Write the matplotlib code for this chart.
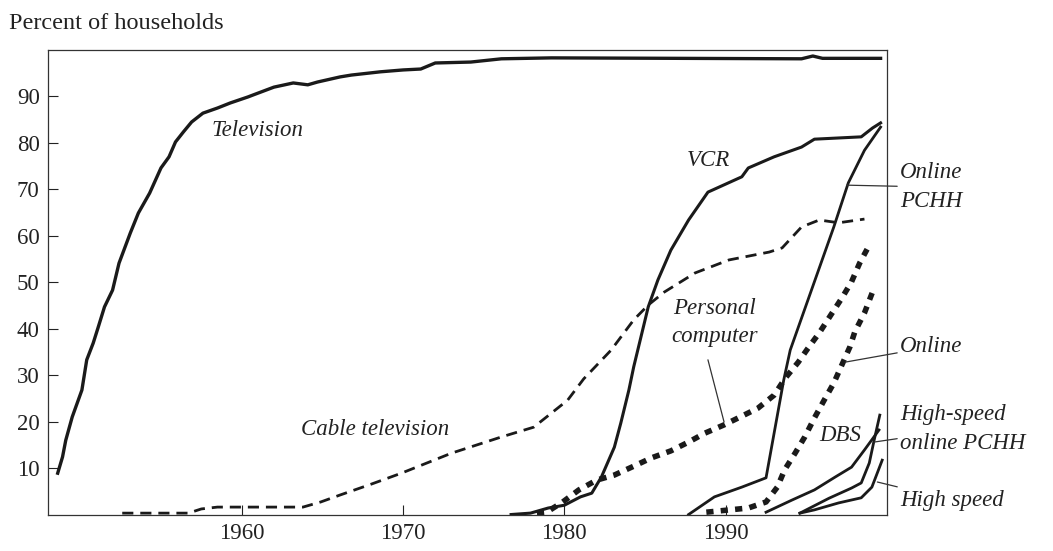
import matplotlib
matplotlib.use('Agg')
import matplotlib.pyplot as plt

# values (year, percent of households)
tv_year = [1948.6, 1948.9, 1949.1, 1949.5, 1950.1, 1950.4, 1950.8, 1951.1, 1951.5, 1952.0,
           1952.4, 1953.1, 1953.6, 1954.3, 1955.0, 1955.5, 1955.9, 1956.4, 1956.9, 1957.6,
           1958.5, 1959.3, 1960.4, 1960.7, 1962.0, 1963.2, 1964.1, 1964.7, 1966.1, 1966.8,
           1968.6, 1970.0, 1971.1, 1972.0, 1974.2, 1976.1, 1979.2, 1994.7, 1995.4, 1996.0, 1999.6]
tv_val = [8.9, 12.4, 16.0, 21.0, 26.8, 33.3, 36.9, 40.2, 44.7, 48.3,
          54.1, 60.6, 64.9, 69.2, 74.6, 77.0, 80.2, 82.4, 84.5, 86.4,
          87.5, 88.6, 89.9, 90.3, 92.0, 92.9, 92.5, 93.1, 94.2, 94.6,
          95.3, 95.7, 95.9, 97.2, 97.4, 98.1, 98.3, 98.1, 98.7, 98.2, 98.2]

cable_year = [1952.6, 1956.7, 1957.5, 1958.5, 1963.8, 1964.9, 1966.1, 1968.0, 1969.9, 1973.0,
              1976.1, 1978.1, 1980.2, 1981.2, 1982.9, 1984.3, 1985.2, 1986.2, 1988.1, 1990.2,
              1992.7, 1993.5, 1994.7, 1995.8, 1997.0, 1998.6]
cable_val = [0.3, 0.3, 1.2, 1.6, 1.6, 2.7, 4.2, 6.5, 8.9, 13.2,
             16.7, 18.8, 24.6, 29.2, 35.4, 41.9, 45.1, 47.9, 52.0, 54.8,
             56.5, 57.4, 61.9, 63.4, 62.8, 63.6]

vcr_year = [1976.7, 1977.9, 1979.0, 1980.0, 1981.0, 1981.7, 1982.3, 1983.1, 1983.5, 1984.0,
            1984.3, 1985.2, 1985.8, 1986.6, 1987.7, 1988.9, 1991.0, 1991.4, 1993.0, 1994.7,
            1995.5, 1998.4, 1999.1, 1999.6]
vcr_val = [0.0, 0.3, 1.4, 2.0, 3.8, 4.6, 8.1, 14.5, 19.7, 26.8,
           31.8, 44.7, 50.5, 56.9, 63.4, 69.4, 72.7, 74.6, 77.0, 79.1,
           80.8, 81.3, 83.2, 84.3]

pc_year = [1978.3, 1978.9, 1979.9, 1980.9, 1982.0, 1983.1, 1984.3, 1985.4, 1986.6, 1987.7,
           1988.7, 1989.9, 1990.9, 1992.0, 1993.0, 1993.7, 1994.5, 1995.1, 1995.8, 1996.6,
           1997.2, 1997.8, 1998.3, 1998.9]
pc_val = [0.3, 0.5, 2.7, 5.3, 7.4, 8.5, 10.4, 12.2, 13.7, 15.6,
          17.5, 19.3, 21.0, 22.9, 25.7, 29.4, 32.8, 35.8, 39.1, 43.4,
          46.6, 50.1, 54.1, 58.0]

online_pchh_year = [1987.7, 1989.3, 1991.0, 1992.5, 1993.0, 1993.6, 1994.0, 1995.1, 1996.7,
                    1997.6, 1998.6, 1999.6]
online_pchh_val = [0.0, 3.8, 5.9, 7.9, 17.5, 29.0, 35.4, 46.2, 61.9, 71.4, 78.4, 83.4]

online_year = [1988.8, 1991.4, 1992.5, 1993.2, 1993.65, 1994.3, 1994.9, 1995.5, 1996.1, 1996.7,
               1997.2, 1997.7, 1998.0, 1998.6, 1999.1]
online_val = [0.5, 1.4, 2.7, 5.9, 9.6, 13.2, 16.7, 20.8, 24.6, 28.3,
              32.2, 36.1, 39.3, 43.4, 47.9]

dbs_year = [1992.5, 1994.1, 1995.5, 1996.8, 1997.8, 1998.6, 1999.5]
dbs_val = [0.5, 3.1, 5.3, 8.1, 10.2, 13.9, 18.2]

hs_pchh_year = [1994.6, 1996.4, 1997.8, 1998.4, 1998.9, 1999.2, 1999.55]
hs_pchh_val = [0.3, 3.5, 5.7, 6.8, 11.1, 16.0, 21.4]

hs_year = [1994.6, 1995.5, 1997.0, 1998.4, 1999.06, 1999.7]
hs_val = [0.3, 1.0, 2.5, 3.6, 5.9, 11.7]

plt.rcParams['font.family'] = ['Liberation Serif', 'DejaVu Serif']
ink = '#1a1a1a'

fig = plt.figure(figsize=(10.53, 5.51), dpi=100)
ax = fig.add_axes([0.0456, 0.0662, 0.7968, 0.8431])

ax.plot(tv_year, tv_val, color=ink, lw=2.4)
ax.plot(cable_year, cable_val, color=ink, lw=2.0, dashes=(4, 2.5))
ax.plot(vcr_year, vcr_val, color=ink, lw=2.2)
ax.plot(online_pchh_year, online_pchh_val, color=ink, lw=2.0)
ax.plot(pc_year, pc_val, color=ink, lw=4.0, dashes=(1.3, 1.3))
ax.plot(online_year, online_val, color=ink, lw=4.0, dashes=(1.3, 1.3))
ax.plot(dbs_year, dbs_val, color=ink, lw=2.0)
ax.plot(hs_pchh_year, hs_pchh_val, color=ink, lw=2.0)
ax.plot(hs_year, hs_val, color=ink, lw=2.0)

ax.set_xlim(1948, 2000)
ax.set_ylim(0, 100)
ax.set_xticks([1960, 1970, 1980, 1990])
ax.set_yticks(range(10, 100, 10))
ax.tick_params(direction='in', length=7, width=0.8, labelsize=16.5, colors='#222222', pad=6)
for s in ax.spines.values():
    s.set_linewidth(0.9)
    s.set_color('#333333')

fig.text(0.009, 0.958, 'Percent of households', fontsize=17.5, color='#222222', va='center')

lab = dict(fontsize=16.5, style='italic', color='#222222')
ax.text(1961.0, 82.6, 'Television', ha='center', va='center', **lab)
ax.text(1988.9, 76.3, 'VCR', ha='center', va='center', **lab)
ax.text(1968.3, 18.2, 'Cable television', ha='center', va='center', **lab)
ax.text(1989.3, 41.4, 'Personal\ncomputer', ha='center', va='center', linespacing=1.45, **lab)
ax.text(1997.1, 17.1, 'DBS', ha='center', va='center', **lab)

lead = dict(arrowstyle='-', color='#333333', lw=0.9, shrinkA=0, shrinkB=0)
ax.annotate('Online\nPCHH', xy=(1997.5, 70.9), xytext=(2000.8, 70.5), ha='left', va='center',
            linespacing=1.45, arrowprops=lead, annotation_clip=False, **lab)
ax.annotate('', xy=(1988.9, 33.3), xytext=(1989.9, 19.9), arrowprops=lead)
ax.annotate('Online', xy=(1997.4, 32.8), xytext=(2000.8, 36.1), ha='left', va='center',
            arrowprops=lead, annotation_clip=False, **lab)
ax.annotate('High-speed\nonline PCHH', xy=(1999.2, 15.6), xytext=(2000.8, 18.4), ha='left',
            va='center', linespacing=1.45, arrowprops=lead, annotation_clip=False, **lab)
ax.annotate('High speed', xy=(1999.4, 7.0), xytext=(2000.8, 3.1), ha='left', va='center',
            arrowprops=lead, annotation_clip=False, **lab)

fig.savefig('out.png', dpi=100)
